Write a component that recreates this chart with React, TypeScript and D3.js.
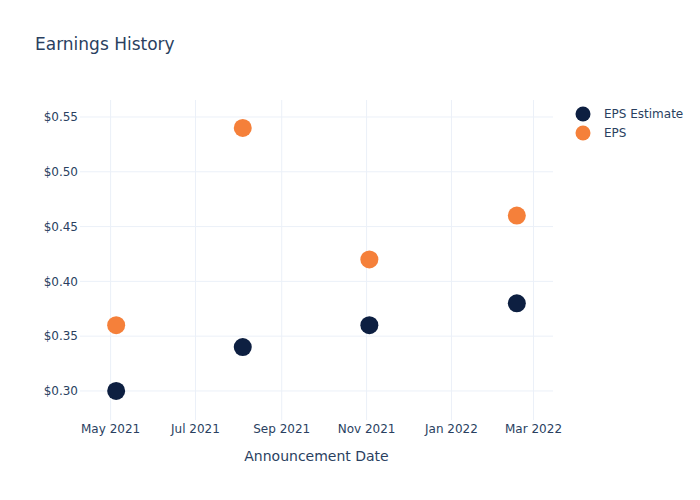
import * as d3 from "d3";

const dates = ["2021-05-05", "2021-08-04", "2021-11-03", "2022-02-17"];
const epsEstimate = [0.30, 0.34, 0.36, 0.38];
const eps = [0.36, 0.54, 0.42, 0.46];
const yTicks = [0.30, 0.35, 0.40, 0.45, 0.50, 0.55];
const xTicks = ["2021-05-01", "2021-07-01", "2021-09-01", "2021-11-01", "2022-01-01", "2022-03-01"];

const W = 700;
const H = 500;
const margin = { left: 80, right: 147, top: 100, bottom: 80 };
const font = "'DejaVu Sans', verdana, arial, sans-serif";
const textColor = "#2a3f5f";
const gridColor = "#ebf0f8";
const navy = "#0d1f41";
const orange = "#f5803a";

const parse = d3.utcParse("%Y-%m-%d");
const fmt = d3.utcFormat("%b %Y");

export default function App() {
  const x = d3
    .scaleUtc()
    .domain([new Date(Date.UTC(2021, 3, 9)), new Date(Date.UTC(2022, 2, 15))])
    .range([margin.left, W - margin.right]);
  const y = d3
    .scaleLinear()
    .domain([0.2735, 0.5655])
    .range([H - margin.bottom, margin.top]);

  const series = [
    { name: "EPS Estimate", values: epsEstimate, color: navy },
    { name: "EPS", values: eps, color: orange },
  ];

  return (
    <svg width={W} height={H} style={{ position: "absolute", left: 0, top: 0, background: "#fff" }} fontFamily={font}>
      <text x={35} y={50} fontSize={17} fill={textColor}>Earnings History</text>
      {xTicks.map((t) => (
        <g key={t}>
          <line x1={x(parse(t)!)} x2={x(parse(t)!)} y1={margin.top} y2={H - margin.bottom} stroke={gridColor} />
          <text x={x(parse(t)!)} y={H - margin.bottom + 13} fontSize={12} fill={textColor} textAnchor="middle">
            {fmt(parse(t)!)}
          </text>
        </g>
      ))}
      {yTicks.map((t) => (
        <g key={t}>
          <line x1={margin.left} x2={W - margin.right} y1={y(t)} y2={y(t)} stroke={gridColor} />
          <text x={margin.left - 2} y={y(t)} dy="0.35em" fontSize={12} fill={textColor} textAnchor="end">
            {d3.format("$.2f")(t)}
          </text>
        </g>
      ))}
      <text x={(margin.left + W - margin.right) / 2} y={461} fontSize={14} fill={textColor} textAnchor="middle">
        Announcement Date
      </text>
      {series.map((s) => (
        <g key={s.name}>
          {s.values.map((v, i) => (
            <circle key={i} cx={x(parse(dates[i])!)} cy={y(v)} r={9} fill={s.color} />
          ))}
        </g>
      ))}
      {series.map((s, i) => (
        <g key={s.name} transform={`translate(583,${114 + i * 19})`}>
          <circle r={7.5} fill={s.color} />
          <text x={21} dy="0.35em" fontSize={12} fill={textColor}>{s.name}</text>
        </g>
      ))}
    </svg>
  );
}
